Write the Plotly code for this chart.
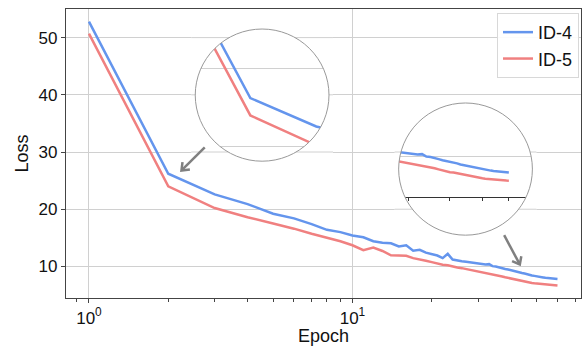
import math
import plotly.graph_objects as go

# ---------------- data ----------------
epochs = list(range(1, 61))
loss_id4 = [52.8, 26.2, 22.6, 20.9, 19.2, 18.4, 17.4, 16.4, 16.0, 15.4,
            15.1, 14.4, 14.15, 14.05, 13.5, 13.7, 12.75, 12.9, 12.4, 12.15,
            11.9, 11.45, 12.2, 11.2, 11.0, 10.9, 10.8, 10.7, 10.55, 10.5,
            10.45, 10.35, 10.4, 10.05, 10.0, 9.8, 9.7, 9.55, 9.45, 9.3,
            9.2, 9.1, 8.95, 8.85, 8.75, 8.6, 8.5, 8.42, 8.35, 8.25,
            8.2, 8.15, 8.08, 8.02, 7.97, 7.93, 7.88, 7.85, 7.82, 7.8]
loss_id5 = [50.7, 24.0, 20.2, 18.6, 17.5, 16.6, 15.7, 15.0, 14.4, 13.7,
            12.85, 13.3, 12.7, 11.95, 11.95, 11.85, 11.45, 11.15, 11.0, 10.75,
            10.5, 10.3, 10.2, 9.95, 9.8, 9.7, 9.55, 9.4, 9.25, 9.15,
            9.05, 8.95, 8.8, 8.65, 8.55, 8.4, 8.25, 8.1, 7.98, 7.85,
            7.8, 7.7, 7.55, 7.45, 7.38, 7.3, 7.2, 7.12, 7.05, 7.0,
            6.95, 6.9, 6.85, 6.82, 6.78, 6.74, 6.72, 6.7, 6.68, 6.67]
series_names = ["ID-4", "ID-5"]
y_tickvals = [10, 20, 30, 40, 50]
x_tickvals = [1, 10]
x_ticktext = ["10<sup>0</sup>", "10<sup>1</sup>"]
x_minor = [0.9, 2, 3, 4, 5, 6, 7, 8, 9, 20, 30, 40, 50, 60, 70]

# ---------------- layout geometry ----------------
W, H = 586, 346
L, R, T, B = 66, 582, 9, 302
pw, ph = R - L, B - T
def X(px): return (px - L) / pw
def Y(py): return (B - py) / ph

x_range = [(L - 89) / 264, (R - 89) / 264]
y_top, y_bot = 55.0, 4.48
def py_of(v): return T + (y_top - v) / (y_top - y_bot) * ph

BLUE = "#6495ED"
RED = "#F08080"
GRID = "#d0d0d0"
AX = "#444444"
FONT = "Liberation Sans, Arial, sans-serif"

insets = [
    dict(cx=262.5, cy=96.3, r=67, xr=[0.1538, 0.5112], yr=[18.2, 34.95],
         yt=[20, 30], xt=None),
    dict(cx=466.3, cy=171.3, r=67, xr=[1.4486, 1.8486], yr=[-1.01, 17.6],
         yt=[10], xt=[30, 40, 50, 60], spine_py=199.3),
]

fig = go.Figure()
colors = [BLUE, RED]
for name, ys, c in zip(series_names, [loss_id4, loss_id5], colors):
    fig.add_trace(go.Scatter(x=epochs, y=ys, mode="lines", name=name,
                             line=dict(color=c, width=2.5)))
for k in (2, 3):
    for name, ys, c in zip(series_names, [loss_id4, loss_id5], colors):
        fig.add_trace(go.Scatter(x=epochs, y=ys, mode="lines", name=name,
                                 showlegend=False, xaxis=f"x{k}", yaxis=f"y{k}",
                                 line=dict(color=c, width=2.5)))

layout = dict(
    width=W, height=H, autosize=False,
    margin=dict(l=L, r=W - R, t=T, b=H - B, pad=0),
    paper_bgcolor="white", plot_bgcolor="rgba(0,0,0,0)",
    font=dict(family=FONT, size=17, color="#111111"),
    xaxis=dict(type="log", range=x_range, tickmode="array", tickvals=x_tickvals,
               ticktext=x_ticktext, ticks="outside", ticklen=4, tickcolor=AX,
               showline=True, linecolor=AX, linewidth=1.3, mirror=True,
               showgrid=True, gridcolor=GRID, gridwidth=1, zeroline=False,
               minor=dict(tickmode="array", tickvals=x_minor, ticks="outside",
                          ticklen=2.5, tickcolor=AX, showgrid=False),
               title=dict(text="Epoch", font=dict(size=18), standoff=2)),
    yaxis=dict(range=[y_bot, y_top], tickmode="array", tickvals=y_tickvals,
               ticks="outside", ticklen=4, tickcolor=AX,
               showline=True, linecolor=AX, linewidth=1.3, mirror=True,
               showgrid=True, gridcolor=GRID, gridwidth=1, zeroline=False,
               title=dict(text="Loss", font=dict(size=18), standoff=5)),
    legend=dict(x=X(580), y=Y(13), xanchor="right", yanchor="top",
                bgcolor="rgba(255,255,255,0.9)", bordercolor="#d8d8d8",
                borderwidth=1, font=dict(size=18)),
    showlegend=True,
)

shapes = []
for i, ins in enumerate(insets):
    k = i + 2
    cx, cy, r = ins["cx"], ins["cy"], ins["r"]
    xd = [X(cx - r), X(cx + r)]
    yd = [Y(cy + r), Y(cy - r)]
    xa = dict(type="log", domain=xd, range=ins["xr"], anchor=f"y{k}",
              showgrid=False, zeroline=False, showticklabels=False)
    if ins["xt"]:
        xa.update(anchor="free", position=Y(ins["spine_py"]), showline=True,
                  linecolor="#333333", linewidth=1.3, tickmode="array",
                  tickvals=ins["xt"], ticks="outside", ticklen=3,
                  tickcolor="#333333")
    else:
        xa.update(showline=False, ticks="")
    ya = dict(domain=yd, range=ins["yr"], anchor=f"x{k}", tickmode="array",
              tickvals=ins["yt"], showgrid=True, gridcolor=GRID, gridwidth=1.2,
              zeroline=False, showticklabels=False, ticks="", showline=False)
    layout[f"xaxis{k}"] = xa
    layout[f"yaxis{k}"] = ya
    # white disc under inset content (hides main gridlines inside circle)
    shapes.append(dict(type="circle", xref=f"x{k}", yref=f"y{k}",
                       x0=10 ** ins["xr"][0], x1=10 ** ins["xr"][1],
                       y0=ins["yr"][0], y1=ins["yr"][1],
                       fillcolor="white", line=dict(width=0), layer="below"))

# masks (clip inset content to the circle) + restored main gridline pieces + outlines
for ins in insets:
    cx, cy, r = ins["cx"], ins["cy"], ins["r"]
    pad = 4
    sx0, sx1, sy0, sy1 = cx - r - pad, cx + r + pad, cy - r - pad, cy + r + pad
    path = (f"M{X(sx0)},{Y(sy0)} L{X(sx1)},{Y(sy0)} L{X(sx1)},{Y(sy1)} "
            f"L{X(sx0)},{Y(sy1)} Z ")
    n = 120
    pts = []
    for j in range(n):
        a = 2 * math.pi * j / n
        pts.append((X(cx + r * math.cos(a)), Y(cy + r * math.sin(a))))
    path += "M" + " L".join(f"{px},{py}" for px, py in pts) + " Z"
    shapes.append(dict(type="path", path=path, xref="paper", yref="paper",
                       fillcolor="white", line=dict(width=0), layer="above"))
    for v in y_tickvals:
        gy = py_of(v)
        if sy0 <= gy <= sy1:
            d = abs(gy - cy)
            dx = math.sqrt(r * r - d * d) if d < r else 0
            for a0, a1 in [(sx0, cx - dx), (cx + dx, sx1)]:
                shapes.append(dict(type="line", xref="paper", yref="y",
                                   x0=X(a0), x1=X(a1), y0=v, y1=v,
                                   line=dict(color=GRID, width=1), layer="above"))
    shapes.append(dict(type="circle", xref="paper", yref="paper",
                       x0=X(cx - r), x1=X(cx + r), y0=Y(cy + r), y1=Y(cy - r),
                       line=dict(color="#999999", width=1), layer="above"))

# arrows (drawn as shapes: shaft + open chevron head)
arrows = [((181.7, 172.7), (205, 149.3)), ((520.7, 268), (505, 238.3))]
for (hx, hy), (tx, ty) in arrows:
    dxv, dyv = hx - tx, hy - ty
    ln = math.hypot(dxv, dyv)
    ux, uy = dxv / ln, dyv / ln
    wing, ang = 8.5, math.radians(38)
    w = []
    for s in (1, -1):
        ca, sa = math.cos(s * ang), math.sin(s * ang)
        rx, ry = ux * ca - uy * sa, ux * sa + uy * ca
        w.append((hx - wing * rx, hy - wing * ry))
    shapes.append(dict(type="path", xref="paper", yref="paper",
                       path=f"M{X(tx)},{Y(ty)} L{X(hx - 1.2*ux)},{Y(hy - 1.2*uy)}",
                       line=dict(color="#808080", width=2.5), layer="above"))
    shapes.append(dict(type="path", xref="paper", yref="paper",
                       path=(f"M{X(w[0][0])},{Y(w[0][1])} L{X(hx)},{Y(hy)} "
                             f"L{X(w[1][0])},{Y(w[1][1])}"),
                       line=dict(color="#808080", width=2.5), layer="above"))

layout["shapes"] = shapes

fig.update_layout(**layout)
fig.write_html("out.html", config={"displayModeBar": False},
               post_script="document.body.style.margin='0';document.body.style.padding='0';")
